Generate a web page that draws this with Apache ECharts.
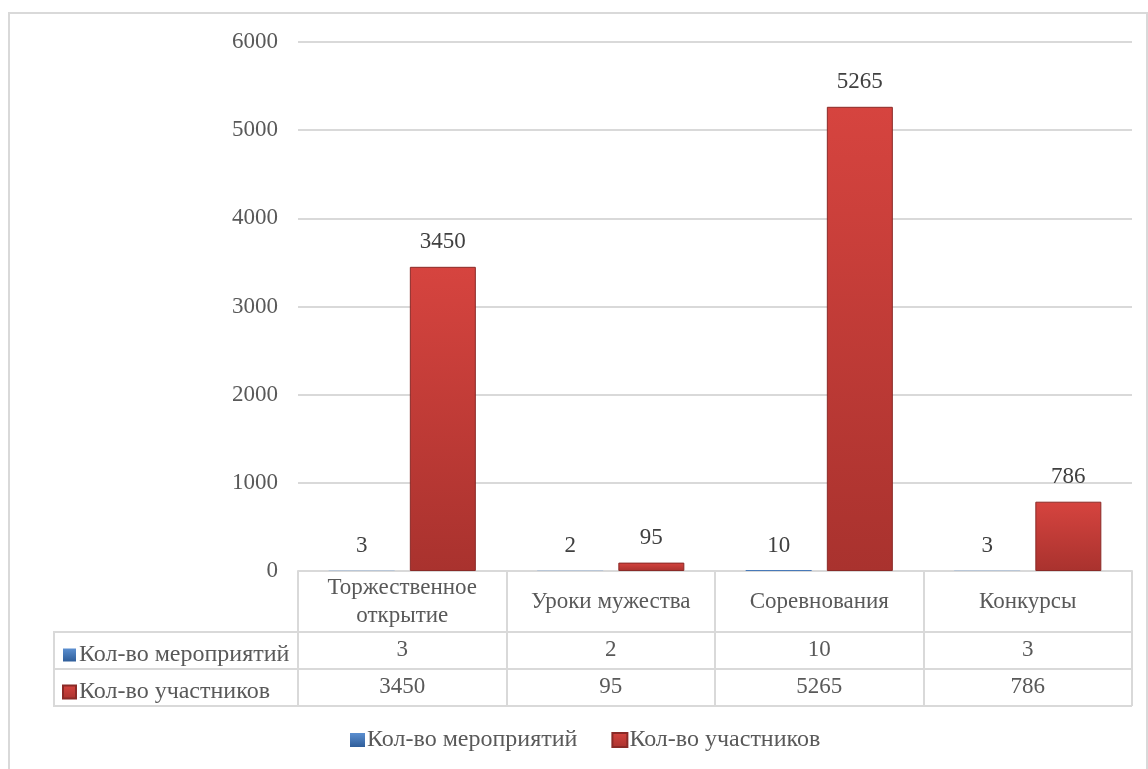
<!DOCTYPE html>
<html><head><meta charset="utf-8">
<script src="https://cdn.jsdelivr.net/npm/echarts@6/dist/echarts.min.js"></script>
<style>html,body{margin:0;padding:0;background:#fff}#c{width:1148px;height:769px}</style>
</head><body><div id="c"></div>
<script>
const categories = ['Торжественное открытие', 'Уроки мужества', 'Соревнования', 'Конкурсы'];
const seriesNames = ['Кол-во мероприятий', 'Кол-во участников'];
const events = [3, 2, 10, 3];
const participants = [3450, 95, 5265, 786];
const yMin = 0, yMax = 6000, yStep = 1000;

const FONT = 'Liberation Serif';
const TXT = '#595959';
const LINE = '#d9d9d9';
const blueFill = new echarts.graphic.LinearGradient(0, 0, 0, 1, [{offset: 0, color: '#5B8FD0'}, {offset: 1, color: '#2F5E9A'}]);
const redFill = new echarts.graphic.LinearGradient(0, 0, 0, 1, [{offset: 0, color: '#D6443F'}, {offset: 1, color: '#A9322E'}]);

const chart = echarts.init(document.getElementById('c'), null, {renderer: 'canvas'});

const tableRows = [events, participants];
const gridLeft = 298, gridRight = 1132, axisY = 571, rowH = 37, headH = 61, tableLeft = 54;
const tableTop = axisY + headH;

const graphics = [
  {type: 'rect', shape: {x: 9, y: 13, width: 1138, height: 800}, style: {fill: 'none', stroke: LINE, lineWidth: 2}, silent: true},
  {type: 'rect', shape: {x: tableLeft, y: tableTop, width: gridLeft - tableLeft, height: rowH * 2}, style: {fill: 'none', stroke: LINE, lineWidth: 2}, silent: true}
];
for (let i = 0; i <= 2; i++) {
  graphics.push({type: 'line', shape: {x1: tableLeft, y1: tableTop + i * rowH, x2: gridRight, y2: tableTop + i * rowH}, style: {stroke: LINE, lineWidth: 2}, silent: true});
}

const wrap = v => (v.length > 16 ? v.replace(' ', '\n') : v);

const xAxes = [{
  type: 'category', data: categories, gridIndex: 0,
  axisLine: {show: true, lineStyle: {color: LINE, width: 2}},
  axisTick: {show: true, length: headH + rowH * 2, interval: 0, lineStyle: {color: LINE, width: 2}},
  axisLabel: {interval: 0, color: TXT, fontFamily: FONT, fontSize: 23, lineHeight: 28, margin: 31, verticalAlign: 'middle',
    align: 'center', formatter: wrap}
}];
tableRows.forEach((vals, r) => {
  xAxes.push({
    type: 'category', data: categories, gridIndex: 0, position: 'bottom',
    axisLine: {show: false}, axisTick: {show: false},
    axisLabel: {interval: 0, color: TXT, fontFamily: FONT, fontSize: 23, margin: headH + rowH * r + rowH / 2 - 1, verticalAlign: 'middle',
      formatter: (v, idx) => String(vals[idx])}
  });
});

chart.setOption({
  animation: false,
  backgroundColor: '#fff',
  grid: {left: gridLeft, right: 1148 - gridRight, top: 42, bottom: 769 - axisY},
  xAxis: xAxes,
  yAxis: {
    type: 'value', min: yMin, max: yMax, interval: yStep,
    axisLine: {show: false}, axisTick: {show: false},
    splitLine: {lineStyle: {color: LINE, width: 2}},
    axisLabel: {color: TXT, fontFamily: FONT, fontSize: 23, margin: 20, formatter: v => String(v)}
  },
  legend: [{
    left: 345, top: 723, itemGap: 34, itemWidth: 15, itemHeight: 14, icon: 'rect',
    textStyle: {color: TXT, fontFamily: FONT, fontSize: 24, lineHeight: 24, padding: [0, 0, 0, -3]},
    data: seriesNames
  }, {
    left: 57, top: 638, orient: 'vertical', itemGap: 13, itemWidth: 13, itemHeight: 13, icon: 'rect',
    textStyle: {color: TXT, fontFamily: FONT, fontSize: 24, lineHeight: 24, padding: [0, 0, 0, -2]},
    data: seriesNames, selectedMode: false
  }],
  graphic: graphics,
  series: [
    {name: seriesNames[0], type: 'bar', data: events, barWidth: 66, barGap: '23%',
      itemStyle: {color: blueFill, borderWidth: 0},
      label: {show: true, position: 'top', distance: 13, color: '#404040', fontFamily: FONT, fontSize: 23}},
    {name: seriesNames[1], type: 'bar', data: participants, barWidth: 66,
      itemStyle: {color: redFill, borderColor: '#8A2A27', borderWidth: 1},
      label: {show: true, position: 'top', distance: 13, color: '#404040', fontFamily: FONT, fontSize: 23}}
  ]
});
</script></body></html>
